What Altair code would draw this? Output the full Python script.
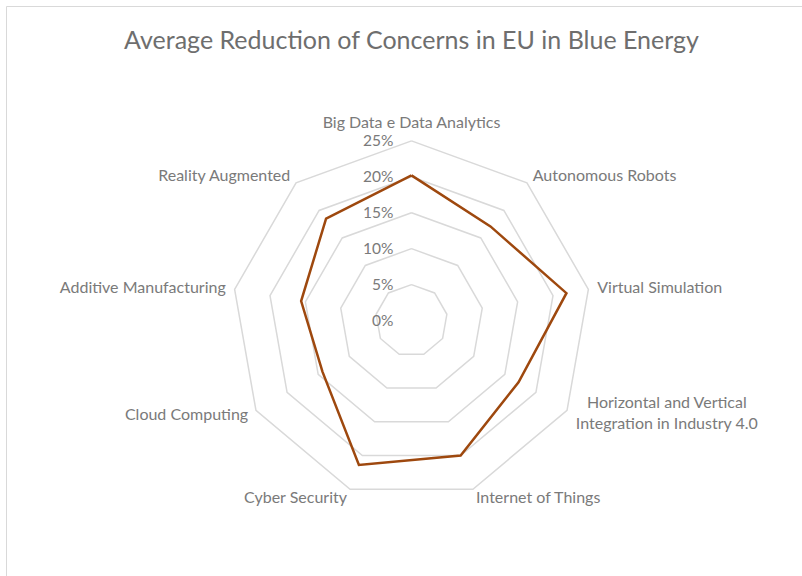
import math
import altair as alt
import pandas as pd

# ---- data ----
categories = [
    "Big Data e Data Analytics",
    "Autonomous Robots",
    "Virtual Simulation",
    "Horizontal and Vertical\nIntegration in Industry 4.0",
    "Internet of Things",
    "Cyber Security",
    "Cloud Computing",
    "Additive Manufacturing",
    "Reality Augmented",
]
values = [0.202, 0.171, 0.219, 0.172, 0.200, 0.214, 0.143, 0.156, 0.185]
levels = [0.0, 0.05, 0.10, 0.15, 0.20, 0.25]
level_labels = ["0%", "5%", "10%", "15%", "20%", "25%"]
title_text = "Average Reduction of Concerns in EU in Blue Energy"

N = len(categories)
RMAX = levels[-1]

# ---- layout (pixels) ----
W, H = 802, 576
CX, CY = 411.5, 320.5
R_PX = 179.6
S = R_PX / RMAX  # pixels per unit

xdom = [-CX / S, (W - CX) / S]
ydom = [-(H - CY) / S, CY / S]

FONT = "Lato"
LABEL_COLOR = "#7a7a7a"
GRID_COLOR = "#d9d9d9"
LINE_COLOR = "#9e480e"

# ---- tables built from the arrays ----
series_df = pd.DataFrame({
    "category": categories + [categories[0]],
    "value": values + [values[0]],
    "k": list(range(N)) + [N],
})
rings_df = pd.DataFrame(
    [{"level": lv, "k": k} for lv in levels[1:] for k in range(N + 1)]
)
ticks_df = pd.DataFrame({"level": levels, "label": level_labels})
cats_df = pd.DataFrame({"category": categories, "k": list(range(N))})
one_df = pd.DataFrame({"a": [0]})

ang = f"datum.k * 2 * PI / {N}"
xs = alt.Scale(domain=xdom, nice=False, zero=False)
ys = alt.Scale(domain=ydom, nice=False, zero=False)


def X(f):
    return alt.X(f"{f}:Q", scale=xs, axis=None)


def Y(f):
    return alt.Y(f"{f}:Q", scale=ys, axis=None)


frame = alt.Chart(one_df).mark_rect(
    filled=False, stroke=GRID_COLOR, strokeWidth=1
).encode(
    x=alt.value(6.5), x2=alt.value(W + 20), y=alt.value(6.5), y2=alt.value(H + 20)
)

title = alt.Chart(one_df).mark_text(
    text=title_text, font=FONT, fontSize=25, color="#6e6e6e",
    align="center", baseline="middle"
).encode(x=alt.value(411.5), y=alt.value(41))

rings = alt.Chart(rings_df).transform_calculate(
    px=f"datum.level * sin({ang})", py=f"datum.level * cos({ang})"
).mark_line(color=GRID_COLOR, strokeWidth=1.5).encode(
    x=X("px"), y=Y("py"), detail="level:N", order=alt.Order("k:Q")
)

series = alt.Chart(series_df).transform_calculate(
    px=f"datum.value * sin({ang})", py=f"datum.value * cos({ang})"
).mark_line(color=LINE_COLOR, strokeWidth=2.5, strokeJoin="miter").encode(
    x=X("px"), y=Y("py"), order=alt.Order("k:Q")
)

ticks = alt.Chart(ticks_df).transform_calculate(
    px="0", py="datum.level"
).mark_text(
    font=FONT, fontSize=15.5, color=LABEL_COLOR, align="right", baseline="middle", dx=-18
).encode(x=X("px"), y=Y("py"), text="label:N")

lab_base = alt.Chart(cats_df).transform_calculate(
    sa=f"sin({ang})",
    px=f"{RMAX} * 1.05 * sin({ang})",
    py=f"{RMAX} * 1.05 * cos({ang})",
)

lab_top = lab_base.transform_filter("abs(datum.sa) < 0.1").mark_text(
    font=FONT, fontSize=16, color=LABEL_COLOR, align="center", baseline="bottom", dy=-1
).encode(x=X("px"), y=Y("py"), text="category:N")

lab_right = lab_base.transform_filter(
    "datum.sa >= 0.1 && indexof(datum.category, '\\n') < 0"
).mark_text(
    font=FONT, fontSize=16, color=LABEL_COLOR, align="left", baseline="middle"
).encode(x=X("px"), y=Y("py"), text="category:N")

lab_multi = lab_base.transform_filter(
    "datum.sa >= 0.1 && indexof(datum.category, '\\n') >= 0"
).mark_text(
    font=FONT, fontSize=16, color=LABEL_COLOR, align="center", baseline="middle",
    lineBreak="\n", lineHeight=21, dx=92, dy=-12
).encode(x=X("px"), y=Y("py"), text="category:N")

lab_left = lab_base.transform_filter("datum.sa <= -0.1").mark_text(
    font=FONT, fontSize=16, color=LABEL_COLOR, align="right", baseline="middle"
).encode(x=X("px"), y=Y("py"), text="category:N")

chart = alt.layer(
    frame, title, rings, series, ticks, lab_top, lab_right, lab_multi, lab_left
).properties(
    width=W, height=H, autosize=alt.AutoSizeParams(type="none"), padding=0,
    background="white"
).configure_view(stroke=None)

chart.save("out.html", embed_options={"renderer": "svg", "actions": False})
